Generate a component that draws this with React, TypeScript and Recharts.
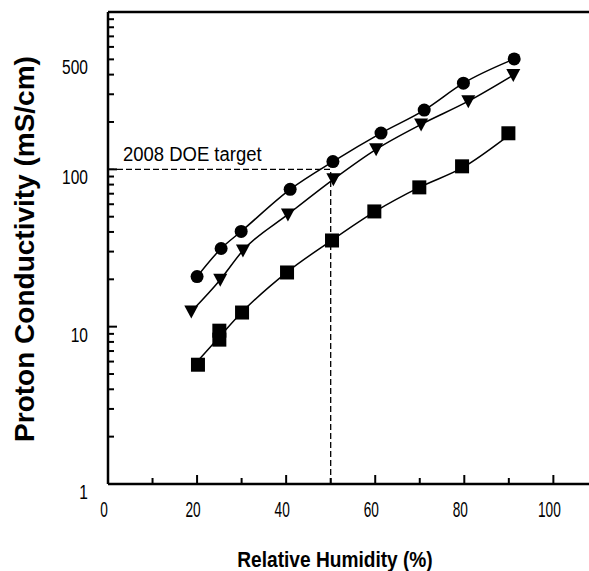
import React from 'react';
import { ComposedChart, Line, Scatter, XAxis, YAxis, ReferenceLine, Label } from 'recharts';

// relative humidity (%) and conductivity (mS/cm)
const circleRH = [20, 25.4, 29.9, 40.9, 50.5, 61.3, 71, 79.8, 91.2];
const circleSigma = [20.8, 31.4, 40.3, 74.6, 112, 170, 238, 353, 503];

const triangleRH = [18.7, 25.2, 30.3, 40.4, 50.6, 60.2, 70.3, 80.9, 91];
const triangleSigma = [12.5, 19.9, 30.5, 51.7, 86.4, 134, 193, 271, 397];

const squareRH = [20.2, 25, 25, 30.1, 40.2, 50.3, 59.8, 69.9, 79.5, 89.9];
const squareSigma = [5.73, 9.43, 8.27, 12.3, 22.1, 35.3, 54, 76.8, 104.5, 169.5];

// fitted curve through the square points
const squareFitRH = [20.5, 25, 30, 40, 50, 60, 70, 80, 88.8];
const squareFitSigma = [6.2, 8.6, 12.3, 22, 35, 54, 77, 104, 155];

const xTicks = [0, 10, 20, 30, 40, 50, 60, 70, 80, 90, 100];
const xLabels = [0, 20, 40, 60, 80, 100];
const yTicks = [1, 2, 3, 4, 5, 6, 7, 8, 9, 10, 20, 30, 40, 50, 60, 70, 80, 90, 100, 200, 300, 400, 500, 600, 700, 800, 900, 1000];
const yLabels = [1, 10, 100, 500];
const yMajor = [1, 10, 100, 1000];

const target = { rh: 50, sigma: 100 };

const zip = (xs: number[], ys: number[]) => xs.map((x, i) => ({ x, y: ys[i] }));

const ARIAL = "'Liberation Sans', Arial, sans-serif";

// the original uses a condensed face, so squeeze Arial horizontally
const NarrowText = ({ x, y, sx, size, anchor = 'start', bold = false, children }: any) => (
  <g transform={`translate(${x} ${y}) scale(${sx} 1)`}>
    <text x={0} y={0} textAnchor={anchor} fontFamily={ARIAL} fontSize={size} fontWeight={bold ? 'bold' : 'normal'} fill="#000">
      {children}
    </text>
  </g>
);

const XTick = (props: any) => {
  const { x, y, payload } = props;
  const v = payload.value;
  const major = xLabels.includes(v);
  return (
    <g>
      <line x1={x} x2={x} y1={y} y2={y - (major ? 9 : 6)} stroke="#000" strokeWidth={2} />
      {major && (
        <NarrowText x={x - 4} y={y + 33} sx={0.62} size={22} anchor="middle">
          {v}
        </NarrowText>
      )}
    </g>
  );
};

const YTick = (props: any) => {
  const { x, y, payload } = props;
  const v = payload.value;
  const major = yMajor.includes(v);
  return (
    <g>
      <line x1={x} x2={x + (major ? 9 : 6)} y1={y} y2={y} stroke="#000" strokeWidth={2} />
      {yLabels.includes(v) && (
        <NarrowText x={x - 20} y={y + 15} sx={0.74} size={21} anchor="end">
          {v}
        </NarrowText>
      )}
    </g>
  );
};

const Dot = (p: any) => <circle cx={p.cx} cy={p.cy} r={6.5} fill="#000" />;
const Square = (p: any) => <rect x={p.cx - 7} y={p.cy - 7} width={14} height={14} fill="#000" />;
const DownTriangle = (p: any) => (
  <polygon points={`${p.cx - 7},${p.cy - 6} ${p.cx + 7},${p.cy - 6} ${p.cx},${p.cy + 7}`} fill="#000" />
);

export default function App() {
  return (
    <div style={{ position: 'absolute', left: 0, top: 0, width: 589, height: 571, background: '#fff' }}>
      <ComposedChart width={589} height={571} margin={{ top: 12, right: 0, bottom: 0, left: 0 }}>
        <XAxis
          type="number"
          dataKey="x"
          domain={[0, 108]}
          ticks={xTicks}
          allowDataOverflow
          height={87}
          tickSize={0}
          tickMargin={0}
          tick={<XTick />}
          axisLine={{ stroke: '#000', strokeWidth: 2.5 }}
          interval={0}
        >
          <Label
            content={() => (
              <NarrowText x={335} y={567} sx={0.85} size={22.5} anchor="middle" bold>
                Relative Humidity (%)
              </NarrowText>
            )}
          />
        </XAxis>
        <YAxis
          type="number"
          dataKey="y"
          scale="log"
          domain={[1, 1000]}
          ticks={yTicks}
          allowDataOverflow
          width={108}
          tickSize={0}
          tickMargin={0}
          tick={<YTick />}
          axisLine={{ stroke: '#000', strokeWidth: 2.5 }}
          interval={0}
        >
          <Label
            content={() => (
              <text
                x={24}
                y={249}
                transform="rotate(-90 24 249)"
                textAnchor="middle"
                dominantBaseline="central"
                fontFamily={ARIAL}
                fontWeight="bold"
                fontSize={28}
                fill="#000"
              >
                Proton Conductivity (mS/cm)
              </text>
            )}
          />
        </YAxis>

        <ReferenceLine y={1000} stroke="#000" strokeWidth={2.5} />

        <ReferenceLine
          segment={[{ x: 0, y: target.sigma }, { x: target.rh, y: target.sigma }]}
          stroke="#000"
          strokeWidth={1.3}
          strokeDasharray="6 3"
        >
          <Label
            content={() => (
              <NarrowText x={123} y={161} sx={0.88} size={21}>
                2008 DOE target
              </NarrowText>
            )}
          />
        </ReferenceLine>
        <ReferenceLine
          segment={[{ x: target.rh, y: 1 }, { x: target.rh, y: target.sigma }]}
          stroke="#000"
          strokeWidth={1.3}
          strokeDasharray="6 3"
        />

        <Line data={zip(circleRH, circleSigma)} dataKey="y" type="monotone" stroke="#000" strokeWidth={1.5} dot={false} isAnimationActive={false} />
        <Line data={zip(triangleRH, triangleSigma)} dataKey="y" type="monotone" stroke="#000" strokeWidth={1.5} dot={false} isAnimationActive={false} />
        <Line data={zip(squareFitRH, squareFitSigma)} dataKey="y" type="monotone" stroke="#000" strokeWidth={1.5} dot={false} isAnimationActive={false} />

        <Scatter data={zip(circleRH, circleSigma)} shape={<Dot />} isAnimationActive={false} />
        <Scatter data={zip(triangleRH, triangleSigma)} shape={<DownTriangle />} isAnimationActive={false} />
        <Scatter data={zip(squareRH, squareSigma)} shape={<Square />} isAnimationActive={false} />
      </ComposedChart>
    </div>
  );
}
